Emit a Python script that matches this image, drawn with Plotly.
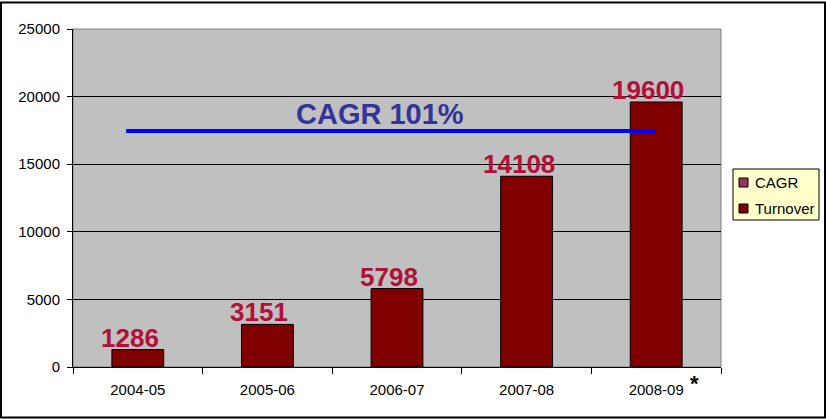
import plotly.graph_objects as go

categories = ["2004-05", "2005-06", "2006-07", "2007-08", "2008-09"]
turnover = [1286, 3151, 5798, 14108, 19600]
cagr_label = "CAGR 101%"
cagr_line_value = 17450
y_ticks = [0, 5000, 10000, 15000, 20000, 25000]
legend_names = ["CAGR", "Turnover"]
legend_colors = ["#993366", "#800000"]

FONT = "Liberation Sans, Arial, sans-serif"
L, R, T, B = 73, 105, 29, 52
W, H = 826, 419
PW, PH = W - L - R, H - T - B


def px(x):
    return (x - L) / PW


def py(y):
    return (H - B - y) / PH


fig = go.Figure()
fig.add_trace(go.Bar(
    x=categories, y=turnover, name="Turnover",
    marker=dict(color="#800000", line=dict(color="black", width=1)),
    showlegend=False,
))

fig.update_layout(
    width=W, height=H,
    margin=dict(l=L, r=R, t=T, b=B, autoexpand=False),
    paper_bgcolor="white", plot_bgcolor="#c0c0c0",
    bargap=0.6,
    font=dict(family=FONT, color="black"),
    showlegend=False,
)
fig.update_xaxes(
    type="category", showgrid=False, showline=True, linecolor="black", linewidth=1,
    ticks="outside", ticklen=6, tickcolor="black", tickson="boundaries",
    tickfont=dict(family=FONT, size=15, color="black"), automargin=False,
    ticklabelstandoff=9,
)
fig.update_yaxes(
    range=[0, 25000], tickvals=y_ticks, ticktext=[str(v) for v in y_ticks],
    showgrid=True, gridcolor="black", gridwidth=1,
    showline=True, linecolor="black", linewidth=1, ticks="outside", ticklen=5,
    tickcolor="black", tickfont=dict(family=FONT, size=15, color="black"),
    zeroline=False, automargin=False, ticklabelstandoff=4,
)

# data labels
for c, v in zip(categories, turnover):
    fig.add_annotation(xref="x", yref="y", x=c, y=v, text=str(v), showarrow=False,
                       yanchor="bottom", yshift=-5, xshift=-8,
                       font=dict(family=FONT, size=26, color="#b0103a", weight="bold"))

# CAGR line
fig.add_shape(type="line", xref="x", yref="y", x0=-0.09, x1=3.99,
              y0=cagr_line_value, y1=cagr_line_value,
              line=dict(color="#0000ff", width=4))
fig.add_annotation(xref="x", yref="y", x=1.87, y=cagr_line_value, text=cagr_label,
                   showarrow=False, yanchor="bottom", yshift=-1,
                   font=dict(family=FONT, size=29, color="#333399", weight="bold"))
# plot area gray border
fig.add_shape(type="rect", xref="paper", yref="paper", x0=0, x1=1, y0=0, y1=1,
              line=dict(color="#808080", width=1), layer="below")
# asterisk
fig.add_annotation(xref="x", yref="paper", x=categories[-1], y=0, text="*",
                   showarrow=False, xshift=38, yshift=-16, yanchor="middle",
                   font=dict(family=FONT, size=22, color="black", weight="bold"))
# outer border
fig.add_shape(type="rect", xref="paper", yref="paper",
              x0=px(1), x1=px(825), y0=py(417.5), y1=py(2.5),
              line=dict(color="black", width=2))

# legend (drawn)
fig.add_shape(type="rect", xref="paper", yref="paper",
              x0=px(733), x1=px(819), y0=py(220), y1=py(169),
              fillcolor="#ffffcc", line=dict(color="black", width=1))
for i, (name, col) in enumerate(zip(legend_names, legend_colors)):
    top = 178 + 26 * i
    fig.add_shape(type="rect", xref="paper", yref="paper",
                  x0=px(739), x1=px(748), y0=py(top + 9), y1=py(top),
                  fillcolor=col, line=dict(color="black", width=1))
    fig.add_annotation(xref="paper", yref="paper", x=px(753), y=py(top + 4.5),
                       text=name, showarrow=False, xanchor="left", yanchor="middle",
                       font=dict(family=FONT, size=15, color="black"))

fig.write_html("out.html", config={"displayModeBar": False},
               post_script="document.body.style.margin='0';document.body.style.overflow='hidden';")
